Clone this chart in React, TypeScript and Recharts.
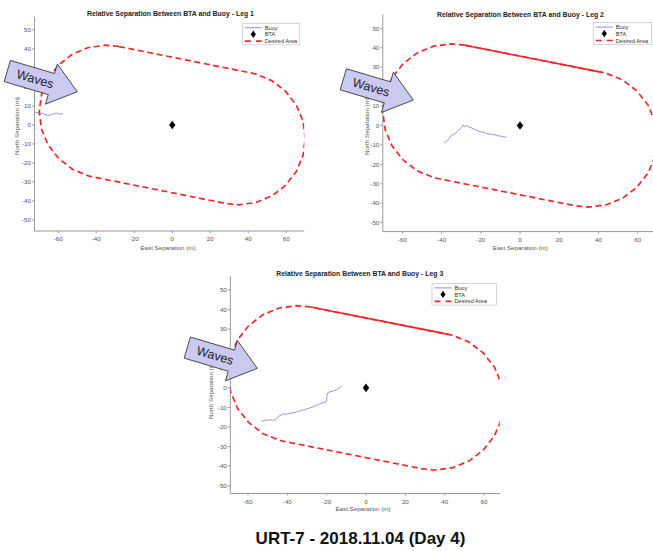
import React from "react";
import { ScatterChart, Scatter, XAxis, YAxis } from "recharts";

const FONT = "'Liberation Sans', Arial, Helvetica, sans-serif";

const X_TICKS = [-60, -40, -20, 0, 20, 40, 60];
const Y_TICKS = [-50, -40, -30, -20, -10, 0, 10, 20, 30, 40, 50];

// desired area outline (closed loop)
const DESIRED_AREA = [
  { x: -28.1, y: 41.3 }, { x: -35, y: 42 }, { x: -44.1, y: 40.8 }, { x: -52.5, y: 37.3 },
  { x: -59.7, y: 31.7 }, { x: -65.3, y: 24.5 }, { x: -68.8, y: 16.1 }, { x: -70, y: 7 },
  { x: -68.8, y: -2.1 }, { x: -65.3, y: -10.5 }, { x: -59.7, y: -17.7 }, { x: -52.5, y: -23.3 },
  { x: -44.1, y: -26.8 }, { x: -41.9, y: -27.3 }, { x: 28.1, y: -41.3 }, { x: 35, y: -42 },
  { x: 44.1, y: -40.8 }, { x: 52.5, y: -37.3 }, { x: 59.7, y: -31.7 }, { x: 65.3, y: -24.5 },
  { x: 68.8, y: -16.1 }, { x: 70, y: -7 }, { x: 68.8, y: 2.1 }, { x: 65.3, y: 10.5 },
  { x: 59.7, y: 17.7 }, { x: 52.5, y: 23.3 }, { x: 44.1, y: 26.8 }, { x: 41.9, y: 27.3 },
  { x: -28.1, y: 41.3 },
];
const TOP_EDGE = [{ x: -28.1, y: 41.3 }, { x: 41.9, y: 27.3 }];

const BTA = [{ x: 0, y: 0 }];

const LEG1_BUOY = [
  { x: -72.5, y: 6.6 }, { x: -70, y: 6.3 }, { x: -68, y: 6.0 }, { x: -66.5, y: 5.3 },
  { x: -65, y: 5.0 }, { x: -63.5, y: 5.6 }, { x: -62, y: 5.8 }, { x: -61, y: 6.4 },
  { x: -60, y: 5.8 }, { x: -58.5, y: 5.7 }, { x: -57.5, y: 5.8 },
];
const LEG2_BUOY = [
  { x: -38.6, y: -9.2 }, { x: -37.8, y: -8.1 }, { x: -36.5, y: -7.2 }, { x: -35.5, y: -5.6 },
  { x: -34, y: -4.6 }, { x: -32.8, y: -3.9 }, { x: -31.5, y: -2.6 }, { x: -30.2, y: -1.4 },
  { x: -29.3, y: -0.2 }, { x: -29, y: 0.4 }, { x: -28.4, y: -0.6 }, { x: -27.4, y: 0 },
  { x: -26, y: -0.7 }, { x: -24, y: -1.6 }, { x: -22, y: -2.6 }, { x: -20.4, y: -3.2 },
  { x: -18.5, y: -3.5 }, { x: -16.5, y: -4.3 }, { x: -13.6, y: -4.6 }, { x: -11.5, y: -5.3 },
  { x: -9.5, y: -5.5 }, { x: -7, y: -6.1 },
];
const LEG3_BUOY = [
  { x: -53, y: -17 }, { x: -51, y: -16.6 }, { x: -49.2, y: -16.3 }, { x: -47.5, y: -16.6 },
  { x: -45.8, y: -16.2 }, { x: -44.5, y: -14.6 }, { x: -42.4, y: -13.5 }, { x: -40, y: -13.4 },
  { x: -37.3, y: -12.8 }, { x: -35, y: -12.2 }, { x: -32.2, y: -11.4 }, { x: -29.5, y: -10.6 },
  { x: -27, y: -9.8 }, { x: -24.5, y: -8.6 }, { x: -21.9, y: -7.6 }, { x: -20.2, y: -7.1 },
  { x: -19.9, y: -4.5 }, { x: -19.6, y: -2.8 }, { x: -18.5, y: -2.1 }, { x: -16.8, y: -1.6 },
  { x: -15, y: -1.1 }, { x: -13.8, y: -0.2 }, { x: -12.5, y: 0.8 },
];

const AREA_RED = "#f0282a";
const BUOY_BLUE = "#8383da";
const AXIS_GRAY = "#9a9a9a";
const TEXT_GRAY = "#555";

const NoDot = () => <g />;

function Diamond(props: any) {
  const { cx, cy } = props;
  return <polygon points={`${cx},${cy - 4.3} ${cx + 3.2},${cy} ${cx},${cy + 4.3} ${cx - 3.2},${cy}`} fill="#000" />;
}

interface PanelProps {
  left: number; top: number; width: number; height: number; clipWidth: number;
  margin: { top: number; right: number; bottom: number; left: number };
  xDomain: [number, number]; yDomain: [number, number];
  buoy: { x: number; y: number }[];
  solidTop: boolean;
}

function Panel({ left, top, width, height, clipWidth, margin, xDomain, yDomain, buoy, solidTop }: PanelProps) {
  const tick = { fontSize: 6.2, fill: TEXT_GRAY, fontFamily: FONT };
  return (
    <div style={{ position: "absolute", left, top, width: clipWidth, height, overflow: "hidden" }}>
      <ScatterChart width={width} height={height} margin={margin}>
        <XAxis type="number" dataKey="x" domain={xDomain} ticks={X_TICKS} allowDataOverflow interval={0}
          height={20} tickSize={2} tickMargin={4} tick={tick} axisLine={{ stroke: AXIS_GRAY }} tickLine={{ stroke: AXIS_GRAY }} />
        <YAxis type="number" dataKey="y" domain={yDomain} ticks={Y_TICKS} allowDataOverflow interval={0}
          width={30} tickSize={2.5} tickMargin={1} tick={tick} axisLine={{ stroke: AXIS_GRAY }} tickLine={{ stroke: AXIS_GRAY }} />
        <Scatter data={buoy} fill={BUOY_BLUE} shape={NoDot} line={{ stroke: BUOY_BLUE, strokeWidth: 0.85 }} lineType="joint" isAnimationActive={false} />
        <Scatter data={DESIRED_AREA} fill={AREA_RED} shape={NoDot} line={{ stroke: AREA_RED, strokeWidth: 1.7, strokeDasharray: "6 3.6" }} lineType="joint" isAnimationActive={false} />
        {solidTop && (
          <Scatter data={TOP_EDGE} fill={AREA_RED} shape={NoDot} line={{ stroke: AREA_RED, strokeWidth: 1.7 }} lineType="joint" isAnimationActive={false} />
        )}
        <Scatter data={BTA} fill="#000" shape={Diamond} isAnimationActive={false} />
      </ScatterChart>
    </div>
  );
}

function LegendBox({ x, y, w }: { x: number; y: number; w: number }) {
  const ts = { fontSize: 5.6, fill: "#333", fontFamily: FONT };
  return (
    <g>
      <rect x={x} y={y} width={w} height={21.6} fill="#fff" stroke="#c4c4c4" strokeWidth={0.7} />
      <line x1={x + 2.5} x2={x + 19.5} y1={y + 4.4} y2={y + 4.4} stroke={BUOY_BLUE} strokeWidth={0.9} />
      <text x={x + 22.5} y={y + 4.4} dominantBaseline="central" {...ts}>Buoy</text>
      <polygon points={`${x + 11},${y + 7.2} ${x + 13.6},${y + 10.9} ${x + 11},${y + 14.6} ${x + 8.4},${y + 10.9}`} fill="#000" />
      <text x={x + 22.5} y={y + 11} dominantBaseline="central" {...ts}>BTA</text>
      <line x1={x + 2.5} x2={x + 19.5} y1={y + 17.8} y2={y + 17.8} stroke={AREA_RED} strokeWidth={1.7} strokeDasharray="6 5" />
      <text x={x + 22.5} y={y + 17.8} dominantBaseline="central" {...ts}>Desired Area</text>
    </g>
  );
}

function WavesArrow({ x, y }: { x: number; y: number }) {
  return (
    <g transform={`translate(${x},${y}) rotate(16.5)`}>
      <polygon points="0,-11 46,-11 46,-21 73,0 46,21 46,11 0,11" fill="#cacaf0" stroke="#333" strokeWidth={0.8} />
      <text x={29} y={0} textAnchor="middle" dominantBaseline="central" fontSize={12.5} fontFamily={FONT} fill="#222">Waves</text>
    </g>
  );
}

function Labels({ title, titleX, titleY, xlX, xlY, ylX, ylY }: { title: string; titleX: number; titleY: number; xlX: number; xlY: number; ylX: number; ylY: number }) {
  return (
    <g fontFamily={FONT}>
      <text x={titleX} y={titleY} textAnchor="middle" dominantBaseline="central" fontSize={6.9} fontWeight="bold" fill="#222">{title}</text>
      <text x={xlX} y={xlY} textAnchor="middle" dominantBaseline="central" fontSize={6.2} fill={TEXT_GRAY}>East Separation (m)</text>
      <text x={ylX} y={ylY} textAnchor="middle" dominantBaseline="central" fontSize={6.2} fill={TEXT_GRAY}
        transform={`rotate(-90 ${ylX} ${ylY})`}>North Separation (m)</text>
    </g>
  );
}

export default function App() {
  return (
    <div style={{ position: "absolute", left: 0, top: 0, width: 653, height: 551, overflow: "hidden", background: "#fff" }}>
      <Panel left={0} top={0} width={320} height={260} clipWidth={320}
        margin={{ top: 16.7, right: 15.7, bottom: 9, left: 4.5 }}
        xDomain={[-72.5, 69.5]} yDomain={[-55.8, 57]} buoy={LEG1_BUOY} solidTop={false} />
      <Panel left={330} top={0} width={330} height={260} clipWidth={323}
        margin={{ top: 14.7, right: 5.7, bottom: 8.4, left: 22.8 }}
        xDomain={[-70, 68.5]} yDomain={[-54.6, 57]} buoy={LEG2_BUOY} solidTop={true} />
      <Panel left={180} top={260} width={330} height={260} clipWidth={320}
        margin={{ top: 16.3, right: 10.2, bottom: 6.5, left: 20.3 }}
        xDomain={[-69, 68]} yDomain={[-54, 57]} buoy={LEG3_BUOY} solidTop={true} />
      <svg width={653} height={551} style={{ position: "absolute", left: 0, top: 0, pointerEvents: "none" }}>
        <Labels title="Relative Separation Between BTA and Buoy - Leg 1" titleX={170.5} titleY={13.3} xlX={168} xlY={247.3} ylX={16} ylY={126} />
        <Labels title="Relative Separation Between BTA and Buoy - Leg 2" titleX={520.5} titleY={14} xlX={520.3} xlY={247.3} ylX={366.7} ylY={126} />
        <Labels title="Relative Separation Between BTA and Buoy - Leg 3" titleX={359.8} titleY={273.3} xlX={363} xlY={508.3} ylX={210} ylY={390} />
        <LegendBox x={242.3} y={23.3} w={57} />
        <LegendBox x={593.3} y={22.7} w={58.4} />
        <LegendBox x={432} y={283.5} w={64.5} />
        <WavesArrow x={7.3} y={71} />
        <WavesArrow x={343.3} y={79.3} />
        <WavesArrow x={187.3} y={347.6} />
        <text x={360.5} y={544} textAnchor="middle" fontSize={17} fontWeight="bold" fontFamily={FONT} fill="#111">URT-7 - 2018.11.04 (Day 4)</text>
      </svg>
    </div>
  );
}
